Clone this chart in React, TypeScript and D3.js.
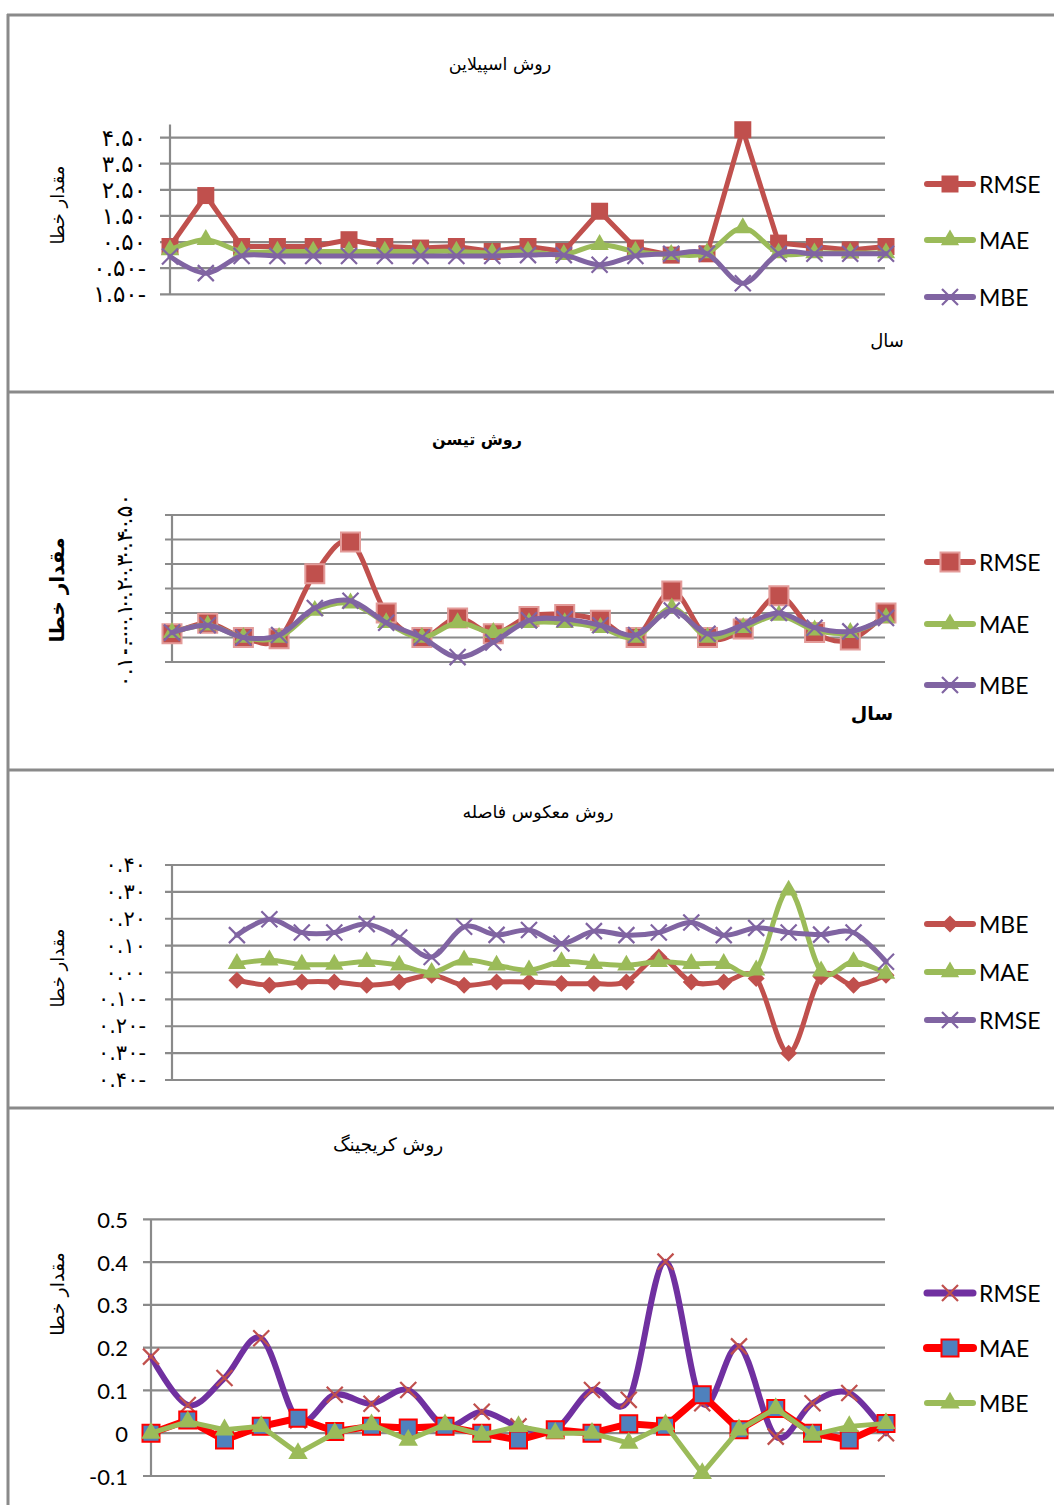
import React from 'react';
import * as d3 from 'd3';

// روش اسپیلاین
const splineRMSE = [0.33, 2.28, 0.33, 0.33, 0.33, 0.59, 0.33, 0.27, 0.33, 0.14, 0.33, 0.14, 1.68, 0.27, 0.0, 0.05, 4.8, 0.46, 0.33, 0.2, 0.33];
const splineMAE = [0.2, 0.59, 0.14, 0.14, 0.14, 0.14, 0.14, 0.14, 0.14, 0.08, 0.14, 0.02, 0.4, 0.14, 0.02, 0.08, 1.04, 0.08, 0.08, 0.08, 0.08];
const splineMBE = [-0.05, -0.69, -0.03, -0.03, -0.03, -0.03, -0.03, -0.03, -0.03, -0.03, 0.0, 0.0, -0.37, -0.03, 0.05, 0.05, -1.08, 0.05, 0.05, 0.05, 0.05];
const splineTicks = [4.5, 3.5, 2.5, 1.5, 0.5, -0.5, -1.5];
const splineTickLabels = ['۴.۵۰', '۳.۵۰', '۲.۵۰', '۱.۵۰', '۰.۵۰', '۰.۵۰-', '۱.۵۰-'];

// روش تیسن
const thiessenRMSE = [0.015, 0.058, 0.0, -0.005, 0.26, 0.39, 0.1, 0.0, 0.08, 0.015, 0.086, 0.094, 0.07, 0.0, 0.19, 0.0, 0.035, 0.17, 0.02, -0.01, 0.1];
const thiessenMAE = [0.02, 0.05, 0.0, 0.0, 0.11, 0.14, 0.06, 0.0, 0.06, 0.02, 0.06, 0.06, 0.04, 0.0, 0.12, 0.0, 0.04, 0.09, 0.03, 0.02, 0.08];
const thiessenMBE = [0.02, 0.05, 0.0, 0.01, 0.12, 0.15, 0.06, 0.0, -0.08, -0.02, 0.07, 0.075, 0.05, 0.01, 0.11, 0.015, 0.05, 0.1, 0.04, 0.025, 0.08];
const thiessenTicks = [0.5, 0.4, 0.3, 0.2, 0.1, 0.0, -0.1];
const thiessenTickLabels = ['۰.۵۰', '۰.۴۰', '۰.۳۰', '۰.۲۰', '۰.۱۰', '۰.۰۰', '۰.۱۰-'];

// روش معکوس فاصله (first two years have no value)
const idwMBE = [null, null, -0.029, -0.047, -0.035, -0.035, -0.047, -0.035, -0.01, -0.047, -0.035, -0.035, -0.041, -0.041, -0.035, 0.058, -0.035, -0.035, -0.022, -0.3, -0.016, -0.047, -0.01];
const idwMAE = [null, null, 0.033, 0.046, 0.03, 0.03, 0.04, 0.027, 0.0, 0.046, 0.027, 0.009, 0.04, 0.033, 0.027, 0.04, 0.033, 0.033, 0.009, 0.306, 0.005, 0.04, -0.004];
const idwRMSE = [null, null, 0.139, 0.198, 0.149, 0.149, 0.18, 0.13, 0.058, 0.17, 0.14, 0.158, 0.108, 0.154, 0.139, 0.149, 0.186, 0.139, 0.166, 0.149, 0.141, 0.149, 0.04];
const idwTicks = [0.4, 0.3, 0.2, 0.1, 0.0, -0.1, -0.2, -0.3, -0.4];
const idwTickLabels = ['۰.۴۰', '۰.۳۰', '۰.۲۰', '۰.۱۰', '۰.۰۰', '۰.۱۰-', '۰.۲۰-', '۰.۳۰-', '۰.۴۰-'];

// روش کریجینگ
const krigRMSE = [0.179, 0.066, 0.129, 0.222, 0.03, 0.09, 0.069, 0.101, 0.016, 0.05, 0.016, 0.008, 0.101, 0.078, 0.401, 0.07, 0.203, -0.008, 0.07, 0.094, 0.0];
const krigMAE = [0.0, 0.031, -0.016, 0.016, 0.035, 0.004, 0.016, 0.012, 0.016, 0.0, -0.016, 0.008, 0.0, 0.022, 0.016, 0.09, 0.008, 0.058, 0.0, -0.016, 0.023];
const krigMBE = [0.0, 0.027, 0.008, 0.016, -0.047, 0.0, 0.02, -0.016, 0.02, -0.004, 0.016, 0.0, 0.0, -0.023, 0.02, -0.094, 0.008, 0.058, -0.004, 0.016, 0.023];
const krigTicks = [0.5, 0.4, 0.3, 0.2, 0.1, 0, -0.1];
const krigTickLabels = ['0.5', '0.4', '0.3', '0.2', '0.1', '0', '-0.1'];

const RED = '#C0504D';
const GREEN = '#9BBB59';
const PURPLE = '#8064A2';
const GRID = '#8a8a8a';
const FA = "'DejaVu Sans', sans-serif";
const LAT = "Lato, 'Open Sans', sans-serif";

type MarkerKind = 'square' | 'triangle' | 'x' | 'diamond';

interface Series {
  name: string;
  values: (number | null)[];
  color: string;
  width: number;
  marker: MarkerKind;
  fill: string;
  stroke: string;
  size: number;
  smooth: boolean;
}

const Marker = ({ kind, x, y, size, fill, stroke }: { kind: MarkerKind; x: number; y: number; size: number; fill: string; stroke: string }) => {
  let d = '';
  let rot = 0;
  if (kind === 'square') d = d3.symbol(d3.symbolSquare, size * size)() as string;
  if (kind === 'diamond') { d = d3.symbol(d3.symbolSquare, size * size * 0.5)() as string; rot = 45; }
  if (kind === 'triangle') d = d3.symbol(d3.symbolTriangle, size * size * 0.45)() as string;
  if (kind === 'x') d = d3.symbol(d3.symbolTimes, (size / 2 / 0.6189) ** 2 + 2)() as string;
  const isX = kind === 'x';
  return (
    <path
      d={d}
      transform={`translate(${x},${y}) rotate(${rot})`}
      fill={isX ? 'none' : fill}
      stroke={stroke}
      strokeWidth={isX ? 2.2 : stroke === 'none' ? 0 : 2}
    />
  );
};

interface PanelSpec {
  title: string;
  titleX: number;
  titleY: number;
  titleSize: number;
  bold: boolean;
  yLabelY: number;
  yLabelSize: number;
  xLabel?: { x: number; y: number; size: number };
  domain: [number, number];
  range: [number, number];
  ticks: number[];
  tickLabels: string[];
  tickX: number;
  tickSize: number;
  tickFont: string;
  rotateTicks: boolean;
  axisX: number;
  gridX0: number;
  xStart: number;
  legendY: number[];
  series: Series[];
}

const sq = (color: string, fill = color, stroke = 'none', size = 17, width = 5, smooth = false) => ({ color, fill, stroke, size, width, smooth });

const panels: PanelSpec[] = [
  {
    title: 'روش اسپیلاین', titleX: 500, titleY: 70, titleSize: 17.5, bold: false,
    yLabelY: 205, yLabelSize: 18,
    xLabel: { x: 887, y: 347, size: 18 },
    domain: [-1.5, 5], range: [294.3, 124.5],
    ticks: splineTicks, tickLabels: splineTickLabels, tickX: 146, tickSize: 23, tickFont: FA, rotateTicks: false,
    axisX: 170, gridX0: 160, xStart: 170,
    legendY: [184, 240, 297],
    series: [
      { name: 'RMSE', values: splineRMSE, marker: 'square', ...sq(RED, RED, 'none', 17, 5, false) },
      { name: 'MAE', values: splineMAE, marker: 'triangle', ...sq(GREEN, GREEN, 'none', 18, 5, true) },
      { name: 'MBE', values: splineMBE, marker: 'x', ...sq(PURPLE, PURPLE, PURPLE, 16, 5, true) },
    ],
  },
  {
    title: 'روش تیسن', titleX: 477, titleY: 445, titleSize: 16, bold: true,
    yLabelY: 590, yLabelSize: 20,
    xLabel: { x: 872, y: 720, size: 19 },
    domain: [-0.1, 0.5], range: [662, 515],
    ticks: thiessenTicks, tickLabels: thiessenTickLabels, tickX: 124, tickSize: 22, tickFont: FA, rotateTicks: true,
    axisX: 172, gridX0: 165, xStart: 172,
    legendY: [562, 624, 685],
    series: [
      { name: 'RMSE', values: thiessenRMSE, marker: 'square', ...sq(RED, RED, '#e39b99', 19, 5, true) },
      { name: 'MAE', values: thiessenMAE, marker: 'triangle', ...sq(GREEN, GREEN, 'none', 18, 5, true) },
      { name: 'MBE', values: thiessenMBE, marker: 'x', ...sq(PURPLE, PURPLE, PURPLE, 16, 5, true) },
    ],
  },
  {
    title: 'روش معکوس فاصله', titleX: 538, titleY: 818, titleSize: 17.5, bold: false,
    yLabelY: 968, yLabelSize: 18,
    domain: [-0.4, 0.4], range: [1080, 865],
    ticks: idwTicks, tickLabels: idwTickLabels, tickX: 146, tickSize: 21, tickFont: FA, rotateTicks: false,
    axisX: 172, gridX0: 165, xStart: 172,
    legendY: [924, 972, 1020],
    series: [
      { name: 'MBE', values: idwMBE, marker: 'diamond', ...sq(RED, RED, 'none', 17, 5, true) },
      { name: 'MAE', values: idwMAE, marker: 'triangle', ...sq(GREEN, GREEN, 'none', 18, 5, true) },
      { name: 'RMSE', values: idwRMSE, marker: 'x', ...sq(PURPLE, PURPLE, PURPLE, 16, 5, true) },
    ],
  },
  {
    title: 'روش کریجینگ', titleX: 388, titleY: 1151, titleSize: 18.5, bold: false,
    yLabelY: 1294, yLabelSize: 19,
    domain: [-0.1, 0.5], range: [1476, 1219.3],
    ticks: krigTicks, tickLabels: krigTickLabels, tickX: 128, tickSize: 22, tickFont: LAT, rotateTicks: false,
    axisX: 151, gridX0: 143, xStart: 151,
    legendY: [1293, 1348, 1403],
    series: [
      { name: 'RMSE', values: krigRMSE, marker: 'x', ...sq('#7030A0', RED, RED, 16, 6, true) },
      { name: 'MAE', values: krigMAE, marker: 'square', ...sq('#FF0000', '#4F81BD', '#FF0000', 17, 7, false) },
      { name: 'MBE', values: krigMBE, marker: 'triangle', ...sq(GREEN, GREEN, 'none', 19, 5, false) },
    ],
  },
];

const X_END = 886;
const GRID_END = 885;

const Panel = ({ p }: { p: PanelSpec }) => {
  const n = p.series[0].values.length;
  const x = d3.scalePoint<number>().domain(d3.range(n)).range([p.xStart, X_END]).padding(0);
  const y = d3.scaleLinear().domain(p.domain).range(p.range);
  const fw = p.bold ? 'bold' : 'normal';

  return (
    <g>
      <text x={p.titleX} y={p.titleY} textAnchor="middle" fontFamily={FA} fontSize={p.titleSize} fontWeight={fw} fill="#000">{p.title}</text>
      <text transform={`translate(64,${p.yLabelY}) rotate(-90)`} textAnchor="middle" fontFamily={FA} fontSize={p.yLabelSize} fontWeight={fw} fill="#000">مقدار خطا</text>
      {p.xLabel && (
        <text x={p.xLabel.x} y={p.xLabel.y} textAnchor="middle" fontFamily={FA} fontSize={p.xLabel.size} fontWeight={fw} fill="#000">سال</text>
      )}

      {p.ticks.map((t) => (
        <line key={`g${t}`} x1={p.gridX0} x2={GRID_END} y1={y(t)} y2={y(t)} stroke={GRID} strokeWidth={2.2} />
      ))}
      <line x1={p.axisX} x2={p.axisX} y1={y(p.domain[1])} y2={y(p.domain[0])} stroke={GRID} strokeWidth={2.2} />

      {p.ticks.map((t, i) =>
        p.rotateTicks ? (
          <text key={`t${t}`} transform={`translate(${p.tickX},${y(t)}) rotate(-90)`} textAnchor="middle" dominantBaseline="central" fontFamily={p.tickFont} fontSize={p.tickSize} fill="#000">{p.tickLabels[i]}</text>
        ) : (
          <text key={`t${t}`} x={p.tickX} y={y(t)} textAnchor="end" dominantBaseline="central" fontFamily={p.tickFont} fontSize={p.tickSize} fill="#000" direction="ltr">{p.tickLabels[i]}</text>
        )
      )}

      {p.series.map((s) => {
        const line = d3
          .line<number | null>()
          .defined((v) => v != null)
          .x((_, i) => x(i) as number)
          .y((v) => y(v as number))
          .curve(s.smooth ? d3.curveCardinal.tension(0) : d3.curveLinear);
        return (
          <g key={s.name}>
            <path d={line(s.values) as string} fill="none" stroke={s.color} strokeWidth={s.width} strokeLinejoin="round" strokeLinecap="round" />
            {s.values.map((v, i) =>
              v == null ? null : (
                <Marker key={i} kind={s.marker} x={x(i) as number} y={y(v)} size={s.size} fill={s.fill} stroke={s.stroke} />
              )
            )}
          </g>
        );
      })}

      {p.series.map((s, i) => (
        <g key={`l${s.name}`}>
          <line x1={927} x2={973} y1={p.legendY[i]} y2={p.legendY[i]} stroke={s.color} strokeWidth={s.width + 1} strokeLinecap="round" />
          <Marker kind={s.marker} x={950} y={p.legendY[i]} size={s.size} fill={s.fill} stroke={s.stroke} />
          <text x={979} y={p.legendY[i]} dominantBaseline="central" fontFamily={LAT} fontSize={23} fill="#000">{s.name}</text>
        </g>
      ))}
    </g>
  );
};

const frameLines = [15, 392, 770, 1108];

export default function App() {
  return (
    <svg width={1054} height={1505} style={{ position: 'absolute', left: 0, top: 0, background: '#fff' }}>
      <rect width={1054} height={1505} fill="#fff" />
      {frameLines.map((fy) => (
        <line key={fy} x1={7} x2={1054} y1={fy} y2={fy} stroke={GRID} strokeWidth={3} />
      ))}
      <line x1={8} x2={8} y1={14} y2={1505} stroke={GRID} strokeWidth={3} />
      {panels.map((p) => (
        <Panel key={p.title} p={p} />
      ))}
    </svg>
  );
}
